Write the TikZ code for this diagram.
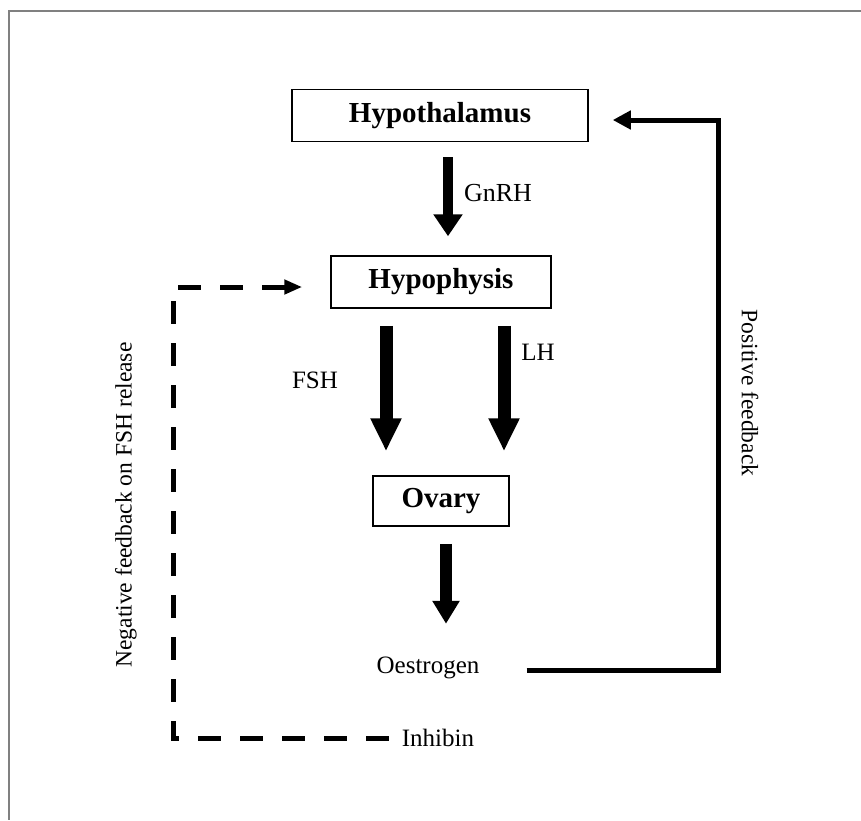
\documentclass[tikz,border=0pt]{standalone}
\usepackage{fontspec}
\setmainfont{Liberation Serif}
\usetikzlibrary{arrows.meta,calc}
\definecolor{bord}{HTML}{808080}
\begin{document}
\begin{tikzpicture}[x=1pt,y=-1pt,
  box/.style={draw,line width=1.5pt,minimum height=52pt,inner sep=0pt,font=\fontsize{29}{32}\selectfont\bfseries},
  lbl/.style={font=\fontsize{25}{28}\selectfont,inner sep=0pt},
  rlbl/.style={font=\fontsize{23.5}{26}\selectfont,inner sep=0pt},
  bigarrow/.style={line width=11pt,-{Triangle[width=28pt,length=22pt]}},
  longarrow/.style={line width=13pt,-{Triangle[width=29pt,length=33pt]}},
  fb/.style={line width=5pt,line join=miter,-{Triangle[width=18pt,length=18pt]}},
  dfb/.style={line width=5pt,line join=miter,dash pattern=on 23pt off 19pt,-{Triangle[width=14pt,length=18pt]}}]
\useasboundingbox (0,0) rectangle (861,820);
\fill[white] (0,0) rectangle (861,820);
\draw[bord,line width=2pt] (8,11) -- (861,11);
\draw[bord,line width=2pt] (9,10) -- (9,820);

\node[box,minimum width=296pt] (hyt) at (440,115.5) {Hypothalamus};
\node[box,minimum width=220pt] (hyp) at (441,282) {Hypophysis};
\node[box,minimum width=136pt,minimum height=50pt] (ova) at (441,501) {Ovary};

\node[lbl] (oes) at (428,668) {Oestrogen};
\node[lbl] (inh) at (438,738) {Inhibin};
\node[lbl,font=\fontsize{26}{28}\selectfont] (gnrh) at (498,193) {GnRH};
\node[lbl] (fsh) at (315,380) {FSH};
\node[lbl] (lh) at (538,352) {LH};
\node[rlbl,rotate=90] (neg) at (126,505) {Negative feedback on FSH release};
\node[rlbl,rotate=-90] (pos) at (750,393) {Positive feedback};

\draw[bigarrow,line width=10pt] ($(hyt.south)+(8,15)$) -- ($(hyp.north)+(7,-19)$);
\draw[longarrow] ($(hyp.south)+(-55,17)$) -- ($(ova.north)+(-55,-24)$);
\draw[longarrow] ($(hyp.south)+(63,17)$) -- ($(ova.north)+(63,-24)$);
\draw[bigarrow,line width=12pt,-{Triangle[width=26pt,length=23pt]}] ($(ova.south)+(5,17)$) -- ($(ova.south)+(5,97)$);

\coordinate (pc) at (718,120);
\draw[fb] ($(oes.east)+(47,2)$) -| (pc) -- ($(hyt.east)+(24,4.5)$);

\coordinate (nb) at (173,738);
\coordinate (nt) at (173,287);
\draw[dfb] ($(inh.west)+(-13,0)$) -- (nb) -- (nt) -- ($(hyp.west)+(-28,5)$);
\end{tikzpicture}
\end{document}
